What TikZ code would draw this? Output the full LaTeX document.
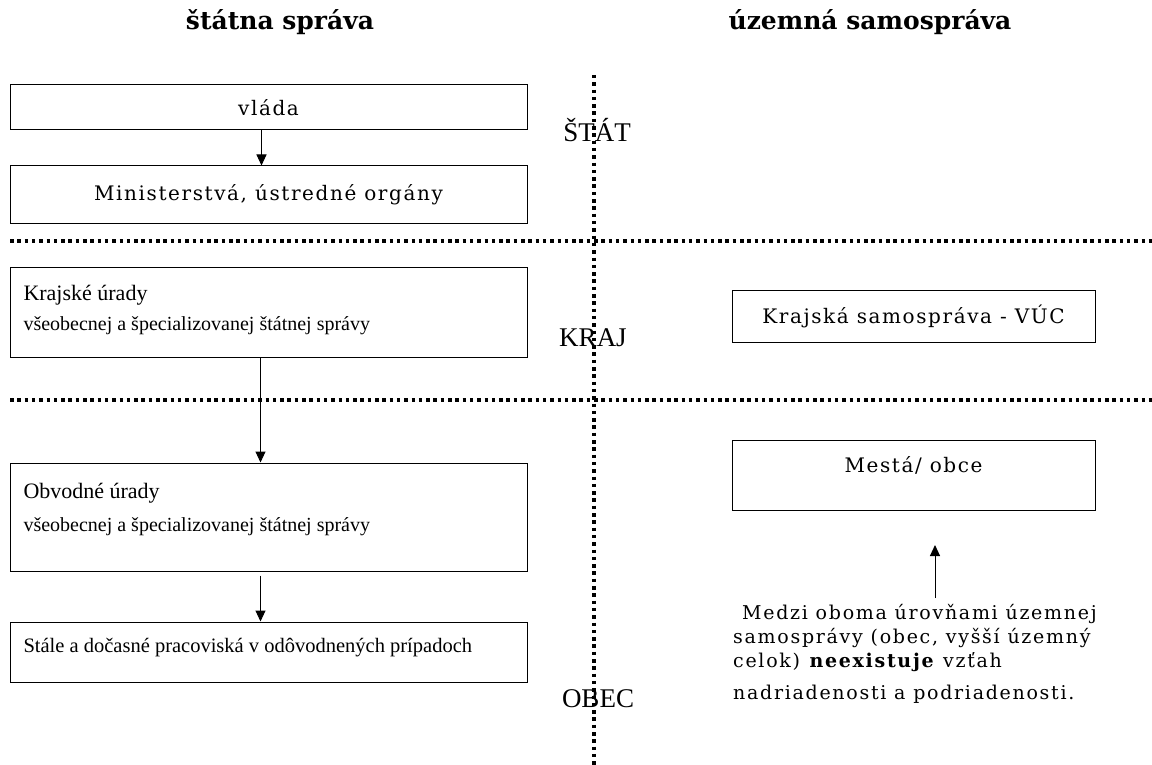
\documentclass[tikz,border=0pt]{standalone}
\usepackage{fontspec}
\setmainfont{Liberation Serif}
\newfontfamily\slabfont[LetterSpace=8]{DejaVu Serif}
\newfontfamily\notefont[LetterSpace=9]{DejaVu Serif}
\newfontfamily\headfont{DejaVu Serif}
\usetikzlibrary{arrows.meta,positioning}

\begin{document}
\begin{tikzpicture}[
    x=1pt, y=-1pt,
    node distance=35pt,
    titletext/.style={font=\headfont\bfseries\fontsize{25}{28}\selectfont},
    leveltext/.style={font=\fontsize{27}{30}\selectfont, inner sep=0pt},
    box/.style={rectangle, draw, line width=1pt, minimum width=517pt, inner sep=0pt, align=center, font=\slabfont\fontsize{20}{24}\selectfont},
    leftbox/.style={box, align=flush left, text width=490pt, inner xsep=13.5pt, inner ysep=0pt, font=\fontsize{22}{26}\selectfont},
    rbox/.style={box, minimum width=363pt},
    arrow/.style={-{Triangle[length=11pt,width=10pt]}, line width=1pt},
    dotline/.style={line width=3.5pt, dash pattern=on 3.5pt off 3.8pt}
]
    \useasboundingbox (0,0) rectangle (1152,765);

    % titles
    \node [titletext] (t1) at (280,22) {štátna správa};
    \node [titletext] (t2) at (870,22) {územná samospráva};

    % dividing lines
    \draw [dotline] (594,75) -- (594,765);
    \draw [dotline] (10,241) -- (1152,241);
    \draw [dotline] (10,400) -- (1152,400);

    \node [leveltext] (stat) at (597,130) {ŠTÁT};
    \node [leveltext] (kraj) at (593,338) {KRAJ};
    \node [leveltext] (obec) at (598,699) {OBEC};

    % state administration
    \node [box, minimum height=45pt] (vlada) at (268.5,107.5) {vláda};
    \node [box, minimum height=57pt, below=of vlada] (mini) {Ministerstvá, ústredné orgány};
    \node [leftbox, text height=33pt, text depth=57pt, below=43pt of mini] (krajur)
        {Krajské úrady\\[4pt]{\fontsize{20}{22}\selectfont všeobecnej a špecializovanej štátnej správy}};
    \node [leftbox, text height=35pt, text depth=73pt, below=105pt of krajur] (obvod)
        {Obvodné úrady\\[7pt]{\fontsize{20}{22}\selectfont všeobecnej a špecializovanej štátnej správy}};
    \node [leftbox, text height=30pt, text depth=30pt, inner xsep=12pt, below=50pt of obvod, font=\fontsize{20.5}{23}\selectfont] (stale)
        {Stále a dočasné pracoviská v odôvodnených prípadoch};

    \draw [arrow] ([xshift=-7pt]vlada.south) -- ([xshift=-7pt]mini.north);
    \draw [arrow] ([xshift=-8pt]krajur.south) -- ([xshift=-8pt]obvod.north);
    \draw [arrow] ([xshift=-8pt,yshift=-4pt]obvod.south) -- ([xshift=-8pt]stale.north);

    % self-government
    \node [rbox, minimum height=52pt] (vuc) at (913.5,316) {Krajská samospráva - VÚC};
    \node [rbox, minimum height=70pt, text depth=22pt] (mesta) at (913.5,475) {Mestá/ obce};

    \node [anchor=north west, align=left, inner sep=0pt, font=\notefont\fontsize{19}{24}\selectfont] (note) at (733,604)
        {\hspace{9pt}Medzi oboma úrovňami územnej\\
         samosprávy (obec, vyšší územný\\
         celok) \textbf{neexistuje} vzťah\\[8pt]
         nadriadenosti a podriadenosti.};
    \coordinate (tail) at (935,598);
    \coordinate (tip) at (935,545);
    \draw [arrow] (tail) -- (tip);
\end{tikzpicture}
\end{document}
